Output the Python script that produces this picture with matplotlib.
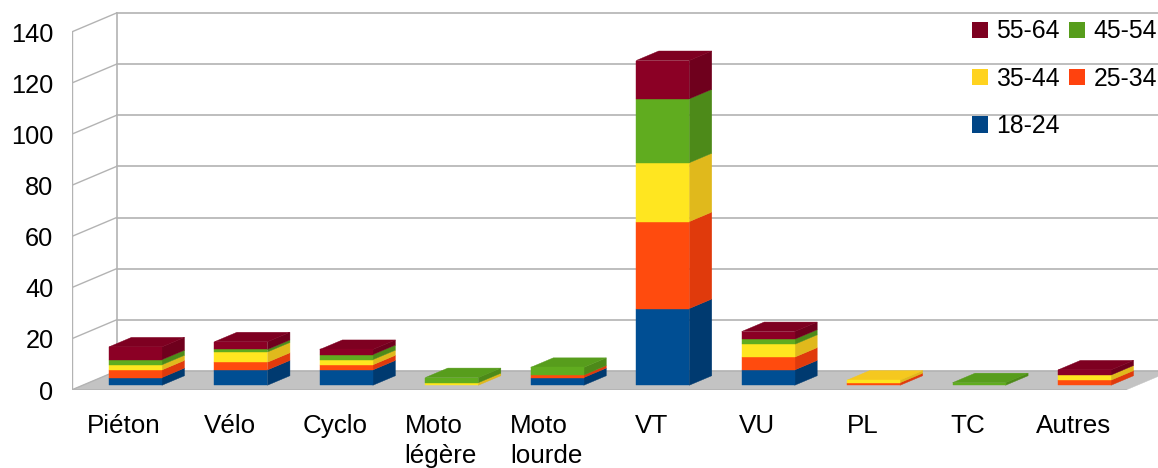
import matplotlib
matplotlib.use('Agg')
import matplotlib.pyplot as plt
from matplotlib.patches import Patch

plt.rcParams['font.family'] = ['Liberation Sans', 'DejaVu Sans']

categories = ['Piéton', 'Vélo', 'Cyclo', 'Moto\nlégère', 'Moto\nlourde', 'VT', 'VU', 'PL', 'TC', 'Autres']
age_18_24 = [3, 6, 6, 0, 3, 30, 6, 0, 0, 0]
age_25_34 = [3, 3, 2, 0, 1, 34, 5, 1, 0, 2]
age_35_44 = [2, 4, 2, 1, 0, 23, 5, 1, 0, 2]
age_45_54 = [2, 1, 2, 2, 3, 25, 2, 0, 1, 0]
age_55_64 = [5, 3, 2, 0, 0, 15, 3, 0, 0, 2]
y_ticks = [0, 20, 40, 60, 80, 100, 120, 140]

series = [age_18_24, age_25_34, age_35_44, age_45_54, age_55_64]
names = ['18-24', '25-34', '35-44', '45-54', '55-64']
front_cols = ['#004e93', '#ff4b0e', '#ffe620', '#60ac1f', '#8b0025']
top_cols = ['#004586', '#f0400e', '#f5c81f', '#579d1c', '#7e0021']
side_cols = ['#003a70', '#e03a0c', '#e0b91c', '#4d8a19', '#6f001d']
legend_cols = ['#004586', '#ff420e', '#ffd320', '#579d1c', '#7e0021']
grid_col = '#b3b3b3'

# pixel sizes of one category and one value unit
cat_px = 105.45
val_px = 2.557

# oblique projection: depth d (0 front, 1 back) shifts x and y in data units
depth_x = 45 / cat_px
depth_y = 19 / val_px
bar_w = 0.503


def proj(x, v, d):
    return x + d * depth_x, v + d * depth_y


def face(ax, pts, col, zorder):
    xs = [p[0] for p in pts]
    ys = [p[1] for p in pts]
    ax.fill(xs, ys, color=col, lw=0.3, zorder=zorder)


fig = plt.figure(figsize=(11.58, 4.68), dpi=100)
ax = fig.add_axes([71.5 / 1158, (468 - 390) / 468, (1158 - 71.5) / 1158, 380 / 468])
ax.set_xlim(0, (1158 - 71.5) / cat_px)
ax.set_ylim(0, 380 / val_px)
for s in ax.spines.values():
    s.set_visible(False)

n = len(categories)

# floor
face(ax, [proj(0, 0, 0), proj(n, 0, 0), proj(n, 0, 1), proj(0, 0, 1)], '#c3c3c3', 1)
ax.plot(*zip(proj(0, 0, 0), proj(n, 0, 0)), color=grid_col, lw=1.2, zorder=1.5)

# walls and grid
ax.plot(*zip(proj(0, 0, 0), proj(0, y_ticks[-1], 0)), color=grid_col, lw=1, zorder=1.5)
ax.plot(*zip(proj(0, 0, 1), proj(0, y_ticks[-1], 1)), color=grid_col, lw=1.2, zorder=1.5)
for t in y_ticks:
    ax.plot(*zip(proj(0, t, 0), proj(0, t, 1)), color=grid_col, lw=1, zorder=1.5)
    ax.plot(*zip(proj(0, t, 1), proj(n, t, 1)), color=grid_col, lw=1.2, zorder=1.5)

# stacked bars, bar by bar, bottom up
for i in range(n):
    x0 = i + 0.5 - bar_w / 2
    x1 = x0 + bar_w
    base = 0
    z = 3 + i
    last = max(k for k in range(len(series)) if series[k][i] > 0)
    for k, vals in enumerate(series):
        v = vals[i]
        if v == 0:
            continue
        top = base + v
        face(ax, [proj(x0, base, .25), proj(x1, base, .25), proj(x1, top, .25), proj(x0, top, .25)], front_cols[k], z + .2)
        face(ax, [proj(x1, base, .25), proj(x1, base, .75), proj(x1, top, .75), proj(x1, top, .25)], side_cols[k], z + .1)
        if k == last:
            face(ax, [proj(x0, top, .25), proj(x1, top, .25), proj(x1, top, .75), proj(x0, top, .75)], top_cols[k], z + .1)
        base = top

ax.set_yticks(y_ticks)
ax.set_xticks([i + 0.5 for i in range(n)])
ax.set_xticklabels(categories)
ax.tick_params(axis='y', length=0, pad=13, labelsize=18.3)
ax.tick_params(axis='x', length=0, pad=17, labelsize=18.7)
for lab in ax.get_xticklabels():
    lab.set_multialignment('left')
    lab.set_linespacing(1.33)

# legend fills by column
order = [4, 2, 0, 3, 1]
handles = [Patch(facecolor=legend_cols[k], edgecolor='none', label=names[k]) for k in order]
fig.legend(handles=handles, ncol=2, loc='upper left', bbox_to_anchor=(971.7 / 1158, 1 - 19.5 / 468),
           frameon=False, fontsize=17.85, borderpad=0, borderaxespad=0,
           handlelength=0.65, handleheight=0.65, handletextpad=0.32,
           columnspacing=0.4, labelspacing=0.94)

fig.savefig('out.png', dpi=100)
